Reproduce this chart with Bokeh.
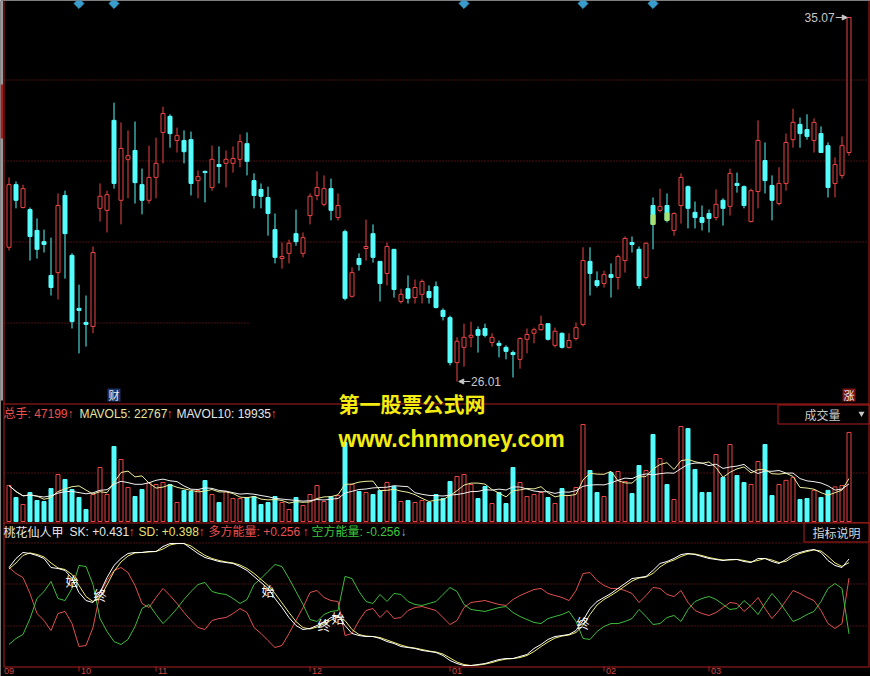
import numpy as np
import pandas as pd
from bokeh.plotting import figure
from bokeh.models import Range1d, Arrow, NormalHead
from bokeh.core.properties import value
from bokeh.embed import file_html
from bokeh.resources import INLINE

W, H = 870, 676

# ---------------- daily bars ----------------
open_ = [29.35, 30.91, 30.34, 30.29, 29.77, 29.49, 28.65, 28.72, 30.64, 29.15,
         27.83, 27.48, 27.38, 30.32, 30.27, 32.51, 30.52, 31.54, 31.76, 30.91,
         30.52, 31.09, 32.21, 32.61, 32.01, 32.01, 32.03, 31.01, 31.24, 30.84,
         31.41, 31.44, 31.44, 31.54, 31.93, 31.01, 30.79, 30.59, 29.79, 29.07,
         29.20, 29.69, 29.20, 30.14, 30.64, 30.42, 30.81, 30.09, 29.74, 28.13,
         29.07, 29.32, 29.69, 29.00, 28.70, 29.30, 28.00, 28.32, 28.10, 28.18,
         28.25, 28.37, 27.78, 27.60, 26.48, 26.86, 27.11, 27.30, 27.33, 26.98,
         26.96, 26.86, 26.73, 26.56, 27.06, 27.21, 27.30, 27.45, 26.91, 27.21,
         26.86, 27.08, 27.43, 29.00, 28.52, 28.45, 28.67, 28.60, 29.02, 29.47,
         29.30, 28.60, 30.39, 30.27, 30.39, 29.77, 30.39, 30.86, 30.22, 30.09,
         30.19, 30.09, 30.52, 30.37, 30.94, 30.86, 29.99, 30.74, 31.51, 30.89,
         30.44, 30.94, 32.03, 32.41, 32.28, 32.01, 32.18, 31.88, 30.94, 31.14,
         31.71]
close = [30.91, 30.52, 30.81, 29.62, 29.30, 29.42, 28.35, 30.39, 29.69, 27.50,
         27.78, 27.43, 29.22, 30.62, 30.66, 30.94, 31.81, 31.63, 30.96, 30.52,
         31.09, 31.44, 32.68, 32.18, 32.13, 31.73, 30.94, 31.11, 31.21, 31.54,
         31.36, 31.54, 31.56, 31.98, 31.49, 30.64, 30.62, 30.19, 29.10, 29.12,
         29.45, 29.49, 29.59, 30.62, 30.84, 30.81, 30.27, 30.39, 28.08, 28.72,
         28.92, 29.37, 29.10, 28.45, 29.37, 28.30, 28.18, 28.08, 28.35, 28.50,
         28.10, 27.85, 27.63, 26.48, 27.01, 27.11, 27.16, 27.16, 27.16, 27.11,
         26.91, 26.76, 26.68, 27.08, 27.18, 27.30, 27.43, 27.06, 27.26, 26.86,
         27.03, 27.35, 29.02, 28.70, 28.40, 28.67, 28.60, 29.12, 29.57, 29.42,
         28.40, 29.45, 29.92, 30.37, 30.02, 30.19, 31.09, 30.32, 30.09, 29.97,
         30.07, 30.42, 30.32, 31.19, 30.89, 30.39, 30.76, 32.01, 31.01, 30.52,
         30.94, 31.96, 32.46, 32.18, 32.11, 32.46, 31.71, 30.84, 31.41, 31.88,
         35.07]
high = [31.09, 30.99, 30.91, 30.34, 30.07, 29.79, 29.59, 30.69, 30.76, 29.20,
        28.42, 28.15, 29.37, 30.94, 30.76, 32.95, 32.46, 32.26, 32.48, 31.31,
        31.88, 32.08, 32.85, 32.66, 32.33, 32.26, 32.23, 31.26, 31.26, 31.88,
        31.86, 31.76, 31.86, 32.16, 32.21, 31.19, 30.94, 30.86, 30.19, 29.47,
        29.54, 30.29, 29.72, 30.69, 31.24, 31.14, 31.06, 30.69, 29.79, 28.85,
        29.20, 30.04, 29.92, 29.00, 29.47, 29.30, 28.32, 28.65, 28.55, 28.55,
        28.40, 28.50, 27.83, 27.65, 27.11, 27.45, 27.50, 27.38, 27.45, 27.21,
        27.03, 26.91, 26.78, 27.11, 27.33, 27.35, 27.65, 27.45, 27.35, 27.23,
        27.21, 27.48, 29.35, 29.35, 28.75, 28.77, 28.95, 29.17, 29.62, 29.62,
        29.37, 29.47, 30.59, 30.81, 30.69, 30.22, 31.19, 30.89, 30.49, 30.39,
        30.29, 30.79, 30.57, 31.31, 31.21, 30.89, 30.81, 32.51, 31.96, 31.14,
        31.34, 32.18, 32.80, 32.58, 32.66, 32.56, 32.36, 31.96, 31.59, 32.11,
        35.07]
low = [29.27, 30.32, 30.32, 29.02, 29.07, 29.22, 28.15, 28.05, 28.57, 27.33,
       26.71, 26.88, 27.21, 29.99, 29.72, 30.81, 29.92, 30.57, 30.44, 30.17,
       30.44, 30.57, 31.44, 31.83, 31.71, 31.44, 30.64, 30.57, 30.47, 30.76,
       30.94, 30.84, 31.21, 31.34, 31.14, 30.32, 30.32, 29.64, 28.95, 28.82,
       28.95, 29.39, 29.10, 29.92, 30.52, 30.37, 30.02, 30.02, 28.03, 28.10,
       28.77, 29.02, 28.97, 28.00, 28.40, 28.10, 27.95, 27.95, 27.95, 27.95,
       27.95, 27.83, 27.53, 26.41, 26.01, 26.38, 26.86, 26.73, 27.11, 26.88,
       26.61, 26.56, 26.11, 26.33, 26.71, 26.96, 27.28, 27.03, 26.86, 26.83,
       26.83, 27.03, 27.38, 28.15, 28.35, 28.35, 28.10, 28.30, 28.72, 29.22,
       28.32, 28.55, 29.30, 30.22, 29.97, 29.64, 29.94, 29.82, 29.82, 29.77,
       29.72, 30.02, 29.89, 30.14, 30.71, 30.32, 29.97, 30.32, 30.69, 30.02,
       30.39, 30.76, 31.83, 31.83, 32.03, 31.71, 31.71, 30.59, 30.59, 31.06,
       31.63]
volume = [19080, 12720, 9010, 15370, 11130, 10600, 17490, 24910, 22260, 16960,
          12720, 6360, 14310, 28620, 14310, 39750, 32860, 18020, 13250, 16960,
          20670, 19610, 20670, 19610, 10070, 16430, 15900, 16430, 21730, 14310,
          10070, 15900, 12190, 12190, 12720, 13250, 9010, 10070, 13250, 10070,
          6360, 12720, 8480, 14310, 19080, 10600, 13250, 13780, 41870, 19610,
          15900, 15370, 14310, 16430, 20670, 18550, 10600, 11130, 10070, 11130,
          10070, 14310, 12190, 21200, 23850, 24910, 19610, 12190, 18550, 9540,
          15370, 9540, 28620, 20670, 13250, 14310, 15370, 12720, 9540, 17490,
          13780, 18020, 51410, 27030, 15370, 13250, 25970, 26500, 21200, 14840,
          29680, 27030, 46110, 33390, 19610, 11660, 50350, 49290, 27560, 15370,
          15370, 35510, 23320, 40810, 24380, 20670, 19610, 31800, 40810, 13780,
          19610, 21795, 23380, 11660, 12190, 16490, 12720, 16500, 18340, 19076,
          47199]

# ---------------- 桃花仙人甲 indicator ----------------
sk = [0.353, 0.436, 0.491, 0.482, 0.463, 0.436, 0.353, 0.344, 0.326, 0.252,
      0.124, 0.050, 0.032, 0.124, 0.261, 0.372, 0.436, 0.482, 0.491, 0.491,
      0.500, 0.500, 0.546, 0.573, 0.573, 0.573, 0.528, 0.482, 0.445, 0.427,
      0.408, 0.399, 0.390, 0.362, 0.326, 0.271, 0.216, 0.161, 0.069, -0.014,
      -0.106, -0.179, -0.216, -0.206, -0.179, -0.151, -0.106, -0.087, -0.179, -0.252,
      -0.271, -0.280, -0.280, -0.298, -0.326, -0.344, -0.372, -0.381, -0.390, -0.408,
      -0.417, -0.427, -0.454, -0.500, -0.528, -0.546, -0.546, -0.537, -0.528, -0.509,
      -0.491, -0.482, -0.482, -0.463, -0.445, -0.390, -0.353, -0.307, -0.280, -0.271,
      -0.261, -0.225, -0.133, -0.023, 0.041, 0.078, 0.115, 0.161, 0.206, 0.252,
      0.261, 0.271, 0.326, 0.390, 0.408, 0.436, 0.472, 0.482, 0.472, 0.454,
      0.436, 0.427, 0.417, 0.427, 0.427, 0.408, 0.399, 0.436, 0.436, 0.408,
      0.390, 0.427, 0.472, 0.491, 0.509, 0.518, 0.491, 0.417, 0.372, 0.353,
      0.431]
sd = [0.340, 0.395, 0.464, 0.487, 0.473, 0.450, 0.395, 0.349, 0.335, 0.289,
      0.188, 0.087, 0.041, 0.078, 0.193, 0.317, 0.404, 0.459, 0.487, 0.491,
      0.496, 0.500, 0.523, 0.560, 0.573, 0.573, 0.551, 0.505, 0.464, 0.436,
      0.418, 0.404, 0.395, 0.376, 0.344, 0.299, 0.244, 0.189, 0.115, 0.028,
      -0.060, -0.143, -0.198, -0.211, -0.193, -0.165, -0.129, -0.097, -0.133, -0.216,
      -0.262, -0.276, -0.280, -0.289, -0.312, -0.335, -0.358, -0.377, -0.386, -0.399,
      -0.413, -0.422, -0.441, -0.477, -0.514, -0.537, -0.546, -0.542, -0.533, -0.519,
      -0.500, -0.487, -0.482, -0.473, -0.454, -0.418, -0.372, -0.330, -0.294, -0.276,
      -0.266, -0.243, -0.179, -0.078, 0.009, 0.060, 0.097, 0.138, 0.184, 0.229,
      0.257, 0.266, 0.299, 0.358, 0.399, 0.422, 0.454, 0.477, 0.477, 0.463,
      0.445, 0.432, 0.422, 0.422, 0.427, 0.418, 0.404, 0.418, 0.436, 0.422,
      0.399, 0.409, 0.450, 0.482, 0.500, 0.514, 0.505, 0.454, 0.395, 0.363,
      0.398]
bull = [0.353, 0.298, 0.261, 0.115, -0.069, -0.133, -0.225, -0.069, -0.050, -0.161,
        -0.372, -0.362, -0.197, 0.115, 0.234, 0.326, 0.353, 0.307, 0.188, 0.023,
        -0.014, 0.078, 0.161, 0.096, 0.023, -0.060, -0.133, -0.197, -0.216, -0.133,
        -0.115, -0.106, -0.069, -0.023, -0.060, -0.197, -0.252, -0.317, -0.381, -0.362,
        -0.252, -0.133, -0.014, 0.124, 0.142, 0.078, 0.050, 0.041, -0.271, -0.252,
        -0.133, -0.041, -0.023, -0.106, -0.041, -0.115, -0.106, -0.041, -0.014, -0.005,
        -0.023, -0.041, -0.106, -0.170, -0.133, -0.014, 0.032, 0.041, 0.050, 0.032,
        0.014, 0.005, 0.060, 0.096, 0.124, 0.151, 0.161, 0.115, 0.096, 0.078,
        0.050, 0.142, 0.298, 0.307, 0.234, 0.188, 0.161, 0.161, 0.142, 0.115,
        0.032, 0.096, 0.170, 0.161, 0.106, 0.087, 0.142, 0.032, -0.041, -0.069,
        -0.087, -0.060, -0.014, 0.032, 0.023, -0.050, 0.005, 0.078, -0.023, -0.115,
        -0.041, 0.050, 0.142, 0.115, 0.078, 0.050, -0.041, -0.161, -0.206, -0.161,
        0.256]
bear = [-0.353, -0.298, -0.261, -0.115, 0.069, 0.133, 0.225, 0.069, 0.050, 0.161,
        0.372, 0.362, 0.197, -0.115, -0.234, -0.326, -0.353, -0.307, -0.188, -0.023,
        0.014, -0.078, -0.161, -0.096, -0.023, 0.060, 0.133, 0.197, 0.216, 0.133,
        0.115, 0.106, 0.069, 0.023, 0.060, 0.197, 0.252, 0.317, 0.381, 0.362,
        0.252, 0.133, 0.014, -0.124, -0.142, -0.078, -0.050, -0.041, 0.271, 0.252,
        0.133, 0.041, 0.023, 0.106, 0.041, 0.115, 0.106, 0.041, 0.014, 0.005,
        0.023, 0.041, 0.106, 0.170, 0.133, 0.014, -0.032, -0.041, -0.050, -0.032,
        -0.014, -0.005, -0.060, -0.096, -0.124, -0.151, -0.161, -0.115, -0.096, -0.078,
        -0.050, -0.142, -0.298, -0.307, -0.234, -0.188, -0.161, -0.161, -0.142, -0.115,
        -0.032, -0.096, -0.170, -0.161, -0.106, -0.087, -0.142, -0.032, 0.041, 0.069,
        0.087, 0.060, 0.014, -0.032, -0.023, 0.050, -0.005, -0.078, 0.023, 0.115,
        0.041, -0.050, -0.142, -0.115, -0.078, -0.050, 0.041, 0.161, 0.206, 0.161,
        -0.256]

month_idx = [-1, 10, 21, 43, 63, 85, 100]
month_labels = ["09", "10", "11", "12", "01", "02", "03"]
event_idx = [10, 15, 65, 82, 92]
signal_idx = [9, 13, 37, 45, 47, 82]
signal_text = ["始", "终", "始", "终", "始", "终"]
mark_idx = [92, 94]
flag_idx = [15, 120]
flag_text = ["财", "涨"]

# ---------------- styling ----------------
BG = "black"
UP = "#ec4444"
DOWN = "#54fcfc"
FRAME = "#b01e1e"
GRID = "#961c1c"
TXT_RED = "#ec5050"
TXT_WHITE = "#e6e6e6"
TXT_YEL = "#e8e070"
TXT_GREEN = "#3cc83c"
GREY = "#c8c8c8"
MIX = "Liberation Sans, Noto Sans CJK SC"
CJK = "Noto Sans CJK SC"

BAR_PX, FIRST_PX = 7, 8.5          # candle spacing and first candle centre
BODY_W = 4 / BAR_PX                 # body width in bar units (+1px stroke)

n = len(close)
idx = np.arange(n)
o, c, h, l = map(np.array, (open_, close, high, low))
vol = np.array(volume, dtype=float)
up = c >= o
dn = ~up
body_top = np.maximum(o, c)
body_bot = np.minimum(o, c)


def range_from(v_a, px_a, v_b, px_b):
    """Linear range so that value v_a sits at pixel row px_a and v_b at px_b."""
    per_px = (v_a - v_b) / (px_b - px_a)
    return Range1d(start=v_b - (H - px_b) * per_px, end=v_a + px_a * per_px)


price_range = range_from(h.max(), 17, l.min(), 381)
vol_range = range_from(53000.0, 521 - 53000.0 / 530, 0.0, 521)
ind_range = range_from(1.0, 605.5 - 109, 0.0, 605.5)

p = figure(width=W, height=H, title=None,
           x_range=Range1d(-FIRST_PX / BAR_PX, (W - FIRST_PX) / BAR_PX),
           y_range=price_range,
           output_backend="svg", toolbar_location=None,
           x_axis_location=None, y_axis_location=None,
           min_border=0, background_fill_color=BG, border_fill_color=BG,
           outline_line_color=None)
p.grid.visible = False
p.extra_y_ranges = {"vol": vol_range, "ind": ind_range, "px": Range1d(H, 0)}
p.extra_x_ranges = {"px": Range1d(0, W)}

PX = dict(x_range_name="px", y_range_name="px")


def txt(x, y, s, color, size="12px", font=MIX, align="left", bold=False,
        baseline="middle", **kw):
    p.text(x=x, y=y, text=s, text_color=color, text_font=value(font),
           text_font_size=size, text_align=align, text_baseline=baseline,
           text_font_style="bold" if bold else "normal", **kw)


# ---------------- frame, separators, dotted grid ----------------
p.quad(left=0, right=2.5, top=0, bottom=400, fill_color="#9a9a9a", line_color=None, **PX)
p.quad(left=0, right=2.5, top=84, bottom=138, fill_color="#a02020", line_color=None, **PX)
p.segment(x0=[3.5, 868.5], y0=[0, 0], x1=[3.5, 868.5], y1=[666, 666],
          line_color=FRAME, line_width=1, **PX)
p.segment(x0=[3, 3, 3], y0=[403.5, 522.5, 666.5], x1=[869, 869, 869],
          y1=[403.5, 522.5, 666.5], line_color=FRAME, line_width=1, **PX)
grid_rows = [79.5, 160.5, 241.5, 472.5, 542.5, 583.5, 625.5]
p.segment(x0=4, y0=grid_rows, x1=868, y1=grid_rows, line_color=GRID,
          line_dash="1 2", line_width=1, **PX)
p.segment(x0=4, y0=322.5, x1=250, y1=322.5, line_color=GRID,
          line_dash="1 2", line_width=1, **PX)

# ---------------- candles ----------------
p.segment(x0=idx[up], y0=h[up], x1=idx[up], y1=body_top[up], line_color=UP)
p.segment(x0=idx[up], y0=body_bot[up], x1=idx[up], y1=l[up], line_color=UP)
p.segment(x0=idx[dn], y0=h[dn], x1=idx[dn], y1=l[dn], line_color=DOWN)
p.vbar(x=idx[up], width=BODY_W, top=body_top[up], bottom=body_bot[up],
       fill_color=BG, line_color=UP, line_width=1)
p.vbar(x=idx[dn], width=BODY_W, top=body_top[dn], bottom=body_bot[dn],
       fill_color=DOWN, line_color=DOWN, line_width=1)
mk = np.array(mark_idx)
p.vbar(x=mk, width=BODY_W, top=(body_top[mk] + body_bot[mk]) / 2, bottom=body_bot[mk],
       fill_color="#a6e070", line_color="#a6e070", line_width=1)

# event diamonds along the top edge
p.scatter(x=event_idx, y=3, marker="square", angle=np.pi / 4, size=7,
          fill_color="#3a9ccc", line_color="#3a9ccc", y_range_name="px")

# highest / lowest price markers
i_hi, i_lo = int(h.argmax()), int(l.argmin())
p.add_layout(Arrow(end=NormalHead(size=5, fill_color=GREY, line_color=GREY),
                   x_start=i_hi - 1.9, y_start=h[i_hi], x_end=i_hi - 0.25, y_end=h[i_hi],
                   line_color=GREY, line_width=1))
txt([i_hi - 2.05], [h[i_hi]], [f"{h[i_hi]:.2f}"], GREY, align="right")
p.add_layout(Arrow(end=NormalHead(size=5, fill_color=GREY, line_color=GREY),
                   x_start=i_lo + 1.9, y_start=l[i_lo], x_end=i_lo + 0.25, y_end=l[i_lo],
                   line_color=GREY, line_width=1))
txt([i_lo + 2.0], [l[i_lo]], [f"{l[i_lo]:.2f}"], GREY)

# news / limit-up flags
for k, fill in zip(range(len(flag_idx)), ["#1c3468", "#7c1414"]):
    p.rect(x=[flag_idx[k]], y=394.5, width=13, height=13, width_units="screen",
           height_units="screen", fill_color=fill, line_color=None, y_range_name="px")
    txt([flag_idx[k]], [394.5], [flag_text[k]], "#f0f0f0", size="11px", font=CJK,
        align="center", y_range_name="px")

# ---------------- volume ----------------
p.vbar(x=idx[up], width=BODY_W, top=vol[up], bottom=0, fill_color=BG,
       line_color=UP, line_width=1, y_range_name="vol")
p.vbar(x=idx[dn], width=BODY_W, top=vol[dn], bottom=0, fill_color=DOWN,
       line_color=DOWN, line_width=1, y_range_name="vol")
ma5 = pd.Series(vol).rolling(5, min_periods=1).mean().to_numpy()
ma10 = pd.Series(vol).rolling(10, min_periods=1).mean().to_numpy()
p.line(idx, ma5, line_color="#ecec9a", line_width=1, y_range_name="vol")
p.line(idx, ma10, line_color="#f0f0f0", line_width=1, y_range_name="vol")

# ---------------- indicator ----------------
p.line(idx, bull, line_color="#e05050", line_width=1, y_range_name="ind")
p.line(idx, bear, line_color="#3cbc3c", line_width=1, y_range_name="ind")
p.line(idx, sd, line_color="#f0ec70", line_width=1, y_range_name="ind")
p.line(idx, sk, line_color="#ffffff", line_width=1, y_range_name="ind")
txt(signal_idx, [sk[i] for i in signal_idx], signal_text, "#ffffff", size="13px",
    font=CJK, align="center", y_offset=2, y_range_name="ind")

# ---------------- time axis ----------------
tick_idx = [i for i in month_idx if i >= 0]
p.segment(x0=tick_idx, y0=666, x1=tick_idx, y1=671, line_color=FRAME, y_range_name="px")
txt(month_idx, [670.5] * len(month_idx), month_labels, "#d04848", size="9px",
    baseline="middle", x_offset=2, y_range_name="px")


def arrow_of(series):
    return "↑" if series[-1] >= series[-2] else "↓"


# ---------------- panel headers ----------------
y1 = 413
txt([3], [y1], [f"总手: {vol[-1]:.0f}"], TXT_RED, x_range_name="px", y_range_name="px")
txt([67], [y1], [arrow_of(vol)], TXT_RED, x_range_name="px", y_range_name="px")
txt([79], [y1], [f"MAVOL5: {ma5[-1]:.0f}"], "#e6e6a0", x_range_name="px", y_range_name="px")
txt([166], [y1], [arrow_of(ma5)], TXT_RED, x_range_name="px", y_range_name="px")
txt([176], [y1], [f"MAVOL10: {ma10[-1]:.0f}"], TXT_WHITE, x_range_name="px", y_range_name="px")
txt([270], [y1], [arrow_of(ma10)], TXT_RED, x_range_name="px", y_range_name="px")

p.quad(left=777.5, right=868.5, top=404.5, bottom=423.5, fill_color=BG,
       line_color=FRAME, **PX)
txt([822], [414], ["成交量"], GREY, font=CJK, align="center", **PX)
p.scatter(x=[861], y=[413], marker="inverted_triangle", size=6,
          fill_color=GREY, line_color=None, **PX)

y2 = 531
txt([3], [y2], ["桃花仙人甲"], TXT_WHITE, font=CJK, **PX)
txt([69], [y2], [f"SK: {sk[-1]:+.3f}"], TXT_WHITE, **PX)
txt([128], [y2], [arrow_of(sk)], TXT_RED, **PX)
txt([138], [y2], [f"SD: {sd[-1]:+.3f}"], TXT_YEL, **PX)
txt([198], [y2], [arrow_of(sd)], TXT_RED, **PX)
txt([208], [y2], [f"多方能量: {bull[-1]:+.3f}"], TXT_RED, **PX)
txt([302], [y2], [arrow_of(bull)], TXT_RED, **PX)
txt([311], [y2], [f"空方能量: {bear[-1]:+.3f}"], TXT_GREEN, **PX)
txt([400], [y2], [arrow_of(bear)], "#6cb0e8", **PX)

p.quad(left=803.5, right=868.5, top=522.5, bottom=541.5, fill_color=BG,
       line_color=FRAME, **PX)
txt([836], [532], ["指标说明"], "#d8d8d8", font=CJK, align="center", **PX)

# ---------------- site banner ----------------
txt([338], [402], ["第一股票公式网"], "#f4ec10", size="21px", font=CJK, bold=True, **PX)
txt([338], [438], ["www.chnmoney.com"], "#f4ec10", size="23px",
    font="Liberation Sans", bold=True, **PX)

open("out.html", "w").write(file_html(p, INLINE))
